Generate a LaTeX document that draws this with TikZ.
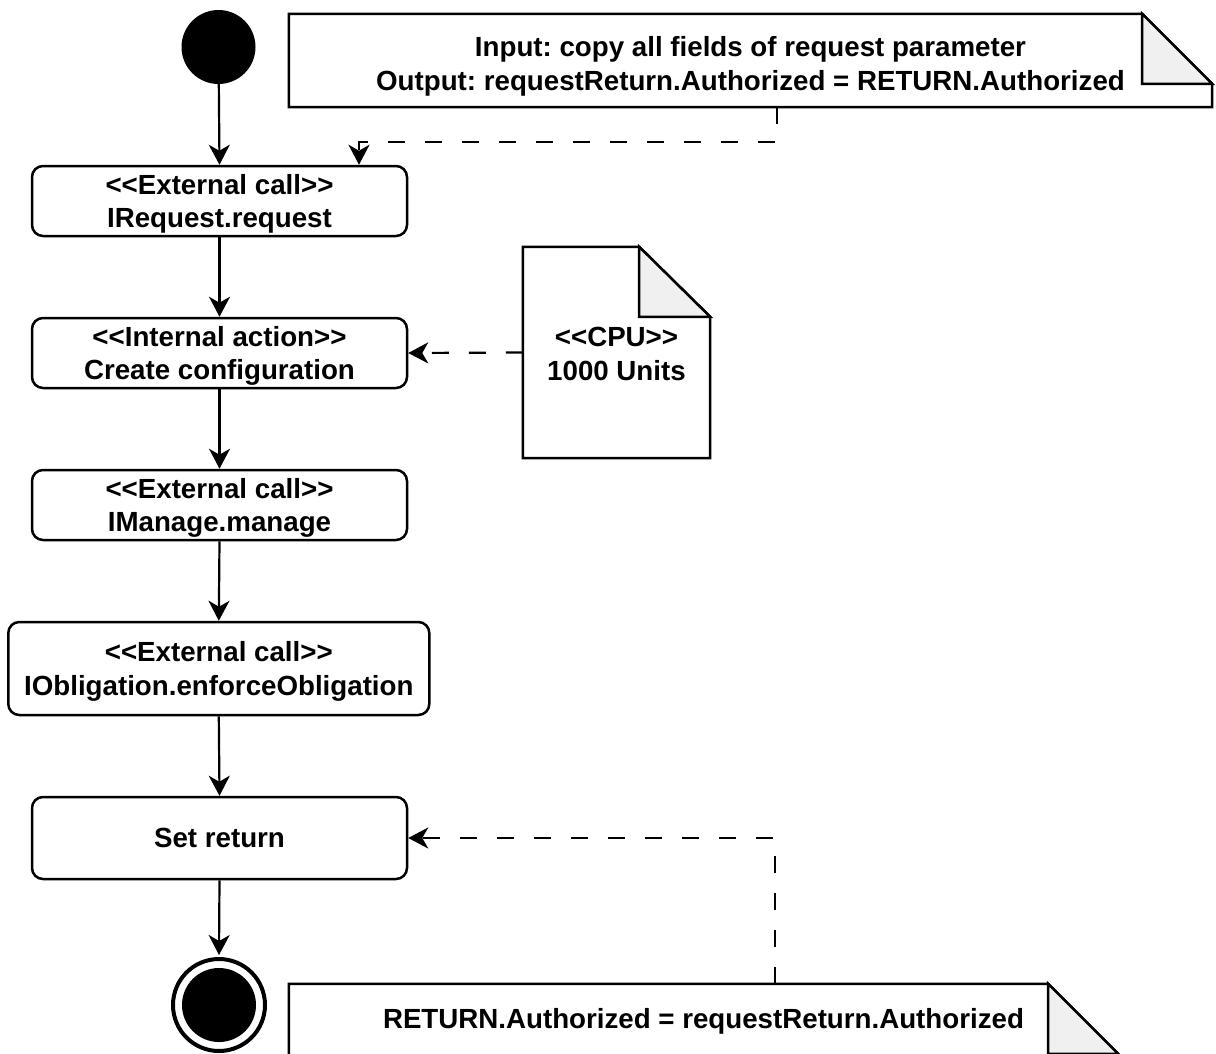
\documentclass[tikz,border=0pt]{standalone}
\usepackage{fontspec}
\setmainfont{Liberation Sans}
\usetikzlibrary{arrows.meta,calc}
\definecolor{foldgrey}{RGB}{240,240,240}
% strut that balances the first line of two-line labels
\newcommand\topstrut{\rule{0pt}{26pt}}
\frenchspacing
\begin{document}
\begin{tikzpicture}[x=1pt,y=-1pt,
  every node/.style={font=\bfseries\fontsize{27.7}{33.5}\selectfont, align=center, inner sep=0pt},
  action/.style={draw, line width=2.5pt, rounded corners=11pt, minimum width=375pt, fill=white},
  flow/.style={line width=2.2pt, -{Stealth[length=20pt,width=21pt,inset=6pt]}},
  link/.style={flow, dash pattern=on 17pt off 20pt},
  notebody/.style={draw, line width=2.5pt, fill=white, line join=miter},
  notefold/.style={draw, line width=2.5pt, fill=foldgrey, line join=miter},
]
\useasboundingbox (0,0) rectangle (1216,1053);
\clip (0,0) rectangle (1216,1053);

% initial and final states
\node[circle, fill=black, minimum size=74pt] (start) at (218.5,47) {};
\node[circle, draw, line width=4pt, minimum size=92pt] (end) at (219,1005) {};
\node[circle, fill=black, minimum size=74pt] (endcore) at (end.center) {};

% actions
\node[action, minimum height=70pt] (b1) at (219.5,201) {\topstrut<{}<External call>{}>\\IRequest.request};
\node[action, minimum height=70pt] (b2) at (219.5,353) {\topstrut<{}<Internal action>{}>\\Create configuration};
\node[action, minimum height=70pt] (b3) at (219.5,505) {\topstrut<{}<External call>{}>\\IManage.manage};
\node[action, minimum height=93pt, minimum width=421pt] (b4) at (218.8,668.5) {\topstrut<{}<External call>{}>\\IObligation.enforceObligation};
\node[action, minimum height=82pt] (b5) at (219.5,838) {Set return};

% notes: body outline with a folded corner, then the text on top
\node[minimum width=923pt, minimum height=93pt] (tn) at (750.5,60.5) {};
\draw[notebody] (tn.north west) -- ($(tn.north east)+(-70,0)$) -- ($(tn.north east)+(0,70)$) -- (tn.south east) -- (tn.south west) -- cycle;
\draw[notefold] ($(tn.north east)+(-70,0)$) -- ($(tn.north east)+(-70,70)$) -- ($(tn.north east)+(0,70)$) -- cycle;
\node[yshift=-6pt] (tntext) at (tn.center) {Input: copy all fields of request parameter\\Output: requestReturn.Authorized = RETURN.Authorized};

\node[minimum width=187pt, minimum height=211pt] (cpu) at (616.5,352.5) {};
\draw[notebody] (cpu.north west) -- ($(cpu.north east)+(-71,0)$) -- ($(cpu.north east)+(0,70)$) -- (cpu.south east) -- (cpu.south west) -- cycle;
\draw[notefold] ($(cpu.north east)+(-71,0)$) -- ($(cpu.north east)+(-71,70)$) -- ($(cpu.north east)+(0,70)$) -- cycle;
\node[yshift=-1.5pt] (cputext) at (cpu.center) {<{}<CPU>{}>\\1000 Units};

\node[minimum width=829pt, minimum height=72pt] (bn) at (703.5,1020) {};
\draw[notebody] (bn.north west) -- ($(bn.north east)+(-70,0)$) -- ($(bn.north east)+(0,70)$) -- (bn.south east) -- (bn.south west) -- cycle;
\draw[notefold] ($(bn.north east)+(-70,0)$) -- ($(bn.north east)+(-70,70)$) -- ($(bn.north east)+(0,70)$) -- cycle;
\node (bntext) at (703.5,1021) {RETURN.Authorized = requestReturn.Authorized};

% control flow
\draw[flow] (start) -- (b1.north);
\draw[flow] (b1.south) -- (b2.north);
\draw[flow] (b2.south) -- (b3.north);
\draw[flow] (b3.south) -- (b4.north);
\draw[flow] (b4.south) -- (b5.north);
\draw[flow] (b5.south) -- ($(end.north)+(0,-2)$);

% note attachments
\coordinate (tnout) at ($(tn.south west)+(488,0)$);
\draw[link] (tnout) -- ++(0,35) -| ($(b1.north)+(139.5,0)$);
\draw[link] (cpu.west) -- (b2.east);
\coordinate (bnout) at ($(bn.north west)+(486,0)$);
\draw[link] (bnout) |- (b5.east);
\end{tikzpicture}
\end{document}
